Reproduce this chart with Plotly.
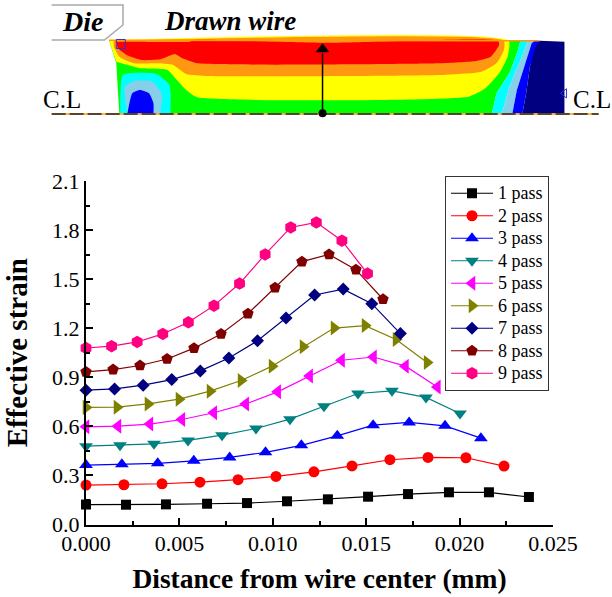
import plotly.graph_objects as go

# ---------- curve data ----------
x1 = [0, .00214, .00428, .00648, .00862, .01076, .01295, .0151, .01724, .01943, .02157, .02371]
y1 = [.122, .121, .123, .127, .131, .142, .154, .170, .186, .197, .197, .168]
x2 = [0, .00203, .00407, .0061, .00814, .01017, .0122, .01424, .01627, .01831, .02034, .02238]
y2 = [.241, .243, .249, .259, .274, .294, .322, .358, .396, .410, .408, .357]
x3 = [0, .00192, .00384, .00577, .00769, .00961, .01153, .01345, .01537, .0173, .01922, .02114]
y3 = [.363, .368, .374, .389, .410, .441, .484, .542, .607, .624, .603, .528]
x4 = [0, .00182, .00364, .00546, .00728, .0091, .01092, .01274, .01456, .01638, .0182, .02002]
y4 = [.479, .484, .493, .514, .546, .587, .644, .723, .801, .817, .777, .679]
x5 = [0, .00171, .00342, .00513, .00684, .00855, .01026, .01197, .01368, .01539, .0171, .01881]
y5 = [.597, .601, .614, .642, .683, .737, .811, .908, 1.004, 1.024, .968, .841]
x6 = [0, .00166, .00332, .00498, .00664, .0083, .00996, .01162, .01328, .01494, .0166, .01826]
y6 = [.716, .717, .737, .766, .815, .880, .968, 1.087, 1.201, 1.216, 1.131, .990]
x7 = [0, .00153, .00306, .00459, .00612, .00765, .00918, .01071, .01224, .01377, .0153, .01683]
y7 = [.821, .829, .852, .886, .939, 1.018, 1.123, 1.262, 1.403, 1.439, 1.350, 1.167]
x8 = [0, .00145, .00289, .00434, .00578, .00723, .00867, .01012, .01156, .01301, .01445, .0159]
y8 = [.933, .947, .972, 1.012, 1.078, 1.165, 1.289, 1.448, 1.607, 1.651, 1.558, 1.377]
x9 = [0, .00137, .00274, .00411, .00548, .00685, .00822, .00959, .01096, .01233, .0137, .01507]
y9 = [1.079, 1.090, 1.116, 1.165, 1.236, 1.338, 1.473, 1.651, 1.816, 1.847, 1.735, 1.534]

names = ["1 pass", "2 pass", "3 pass", "4 pass", "5 pass", "6 pass", "7 pass", "8 pass", "9 pass"]
colors = ["#000000", "#FF0000", "#0000FF", "#008080", "#FF00FF", "#808000", "#000080", "#800000", "#FF0080"]
symbols = ["square", "circle", "triangle-up", "triangle-down", "triangle-left", "triangle-right", "diamond", "pentagon", "hexagon"]
sizes = [10, 11, 12, 12, 13, 13, 10, 12, 12.5]
xs = [x1, x2, x3, x4, x5, x6, x7, x8, x9]
ys = [y1, y2, y3, y4, y5, y6, y7, y8, y9]

x_ticks = [0, .005, .01, .015, .02, .025]
y_ticks = [0, .3, .6, .9, 1.2, 1.5, 1.8, 2.1]

# ---------- contour bands of the upper inset (inset units) ----------
band_colors = ["#00FF00", "#FFFF00", "#FF9810", "#FF0000", "#00FFFF", "#87CEEB", "#0000FF",
               "#00FFFF", "#87CEEB", "#0000FF", "#000080"]
band_shapes = ["linear", "spline", "spline", "spline", "spline", "spline", "spline",
               "linear", "linear", "linear", "linear"]
band_x = [
    [212, 1320, 1310, 1290, 1255, 1243, 240, 232],
    [212, 1288, 1285, 1265, 1225, 1180, 450, 420, 395, 370, 300, 232],
    [225, 1275, 1275, 1255, 1215, 1100, 480, 420, 385, 340, 280, 240, 225],
    [232, 270, 430, 445, 800, 1260, 1262, 1240, 1200, 1100, 450, 410, 390, 350, 300, 260, 235],
    [243, 250, 340, 375, 378],
    [262, 255, 280, 330, 355, 350],
    [262, 275, 295, 320, 332, 332],
    [1320, 1340, 1320, 1290, 1270, 1243, 1255, 1290, 1310],
    [1340, 1358, 1330, 1310, 1298, 1270, 1290, 1320],
    [1358, 1372, 1345, 1335, 1325, 1298, 1310, 1330, 1350],
    [1372, 1438, 1438, 1325, 1335, 1345, 1360],
]
band_y = [
    [120, 122, 160, 220, 280, 340, 340, 190],
    [120, 122, 170, 215, 265, 290, 292, 270, 240, 210, 205, 185],
    [122, 122, 150, 190, 215, 225, 228, 222, 195, 190, 190, 170, 140],
    [125, 125, 125, 120, 128, 122, 135, 170, 183, 190, 190, 175, 162, 178, 180, 165, 145],
    [340, 225, 222, 255, 340],
    [340, 260, 243, 245, 285, 340],
    [340, 280, 270, 280, 310, 340],
    [122, 122, 180, 260, 340, 340, 280, 220, 160],
    [122, 122, 200, 270, 340, 340, 260, 180],
    [122, 122, 200, 280, 340, 340, 270, 200, 130],
    [122, 125, 340, 340, 280, 200, 140],
]
die_x = [58, 250, 250, 200, 58]
die_y = [15, 15, 75, 120, 120]
axis_line_x = [58, 1530]
axis_line_y = [342, 342]
arrow_x = [787, 787]
arrow_y = [340, 160]
top_edge_x = [212, 1370]
top_edge_y = [121, 122]

W, H = 612, 597
fig = go.Figure()

inset = dict(xaxis="x2", yaxis="y2", showlegend=False, hoverinfo="skip")
for bx, by, c, sh in zip(band_x, band_y, band_colors, band_shapes):
    fig.add_trace(go.Scatter(x=bx, y=by, mode="lines", fill="toself", fillcolor=c,
                             line=dict(width=0, color=c, shape=sh, smoothing=0.5), **inset))
fig.add_trace(go.Scatter(x=top_edge_x, y=top_edge_y, mode="lines",
                         line=dict(color="#FF9810", width=1.5), **inset))
fig.add_trace(go.Scatter(x=die_x, y=die_y, mode="lines",
                         line=dict(color="#A8A8A8", width=1.5), **inset))
fig.add_trace(go.Scatter(x=axis_line_x, y=axis_line_y, mode="lines",
                         line=dict(color="#FF9810", width=1.5), **inset))
fig.add_trace(go.Scatter(x=axis_line_x, y=axis_line_y, mode="lines",
                         line=dict(color="#222222", width=1.5, dash="14px 4px"), **inset))
fig.add_trace(go.Scatter(x=arrow_x, y=arrow_y, mode="lines",
                         line=dict(color="#000000", width=1.5), **inset))
fig.add_trace(go.Scatter(x=[787], y=[148], mode="markers",
                         marker=dict(symbol="triangle-up", size=12, color="#000000"), **inset))
fig.add_trace(go.Scatter(x=[787], y=[340], mode="markers",
                         marker=dict(symbol="circle", size=8, color="#000000"), **inset))
fig.add_trace(go.Scatter(x=[244], y=[132], mode="markers",
                         marker=dict(symbol="square-open", size=9, color="#3030E0", line=dict(width=1)), **inset))
fig.add_trace(go.Scatter(x=[1438], y=[280], mode="markers",
                         marker=dict(symbol="triangle-left-open", size=8, color="#3030E0", line=dict(width=1)), **inset))

for x, y, n, c, s, z in zip(xs, ys, names, colors, symbols, sizes):
    fig.add_trace(go.Scatter(x=x, y=y, name=f'<span style="font-size:18px">{n}</span>',
                             mode="lines+markers", cliponaxis=False,
                             line=dict(color=c, width=1.2),
                             marker=dict(symbol=s, size=z, color=c)))

SERIF = "Liberation Serif"
axis_common = dict(showline=True, linecolor="#000000", linewidth=2, ticks="inside", tickcolor="#000000",
                   tickwidth=2, ticklen=7, showgrid=False, zeroline=False, automargin=False,
                   tickfont=dict(family=SERIF, size=22, color="#000000"))
fig.update_layout(
    width=W, height=H, margin=dict(l=0, r=0, t=0, b=0), autosize=False,
    paper_bgcolor="#FFFFFF", plot_bgcolor="rgba(0,0,0,0)",
    font=dict(family=SERIF, color="#000000"),
    xaxis=dict(domain=[86 / W, 553 / W], range=[0, .025], tickvals=x_ticks, tickformat=".3f", anchor="y",
               ticklabelstandoff=-2,
               minor=dict(dtick=.0025, ticks="inside", ticklen=4, tickwidth=2, tickcolor="#000000"),
               title=dict(text="<b>Distance from wire center (mm)</b>", standoff=14,
                          font=dict(family=SERIF, size=27.5, color="#000000")), **axis_common),
    yaxis=dict(domain=[(H - 524.5) / H, (H - 181) / H], range=[0, 2.1], tickvals=y_ticks, tickformat=".1f", anchor="x",
               minor=dict(dtick=.15, ticks="inside", ticklen=4, tickwidth=2, tickcolor="#000000"),
               title=dict(text="<b>Effective strain</b>", standoff=16,
                          font=dict(family=SERIF, size=29, color="#000000")), **axis_common),
    xaxis2=dict(domain=[0, 1], range=[-81, 1566], visible=False, anchor="y2", fixedrange=True),
    yaxis2=dict(domain=[0, 1], range=[1791, 0], visible=False, anchor="x2", fixedrange=True),
    legend=dict(x=445 / W, y=(H - 176) / H, xanchor="left", yanchor="top", bgcolor="#FFFFFF",
                bordercolor="#333333", borderwidth=1, itemwidth=42, tracegroupgap=0,
                font=dict(family=SERIF, size=15, color="#000000")),
    annotations=[
        dict(text="<b><i>Die</i></b>", x=140, y=64, xref="x2", yref="y2", showarrow=False,
             font=dict(family=SERIF, size=28, color="#000000")),
        dict(text="<b><i>Drawn wire</i></b>", x=538, y=64, xref="x2", yref="y2", showarrow=False,
             font=dict(family=SERIF, size=27, color="#000000")),
        dict(text="C.L", x=86, y=298, xref="x2", yref="y2", showarrow=False,
             font=dict(family=SERIF, size=25, color="#000000")),
        dict(text="C.L", x=1511, y=298, xref="x2", yref="y2", showarrow=False,
             font=dict(family=SERIF, size=25, color="#000000")),
    ],
)
fig.write_html("out.html", config={"displayModeBar": False},
               post_script="document.body.style.margin='0';")
